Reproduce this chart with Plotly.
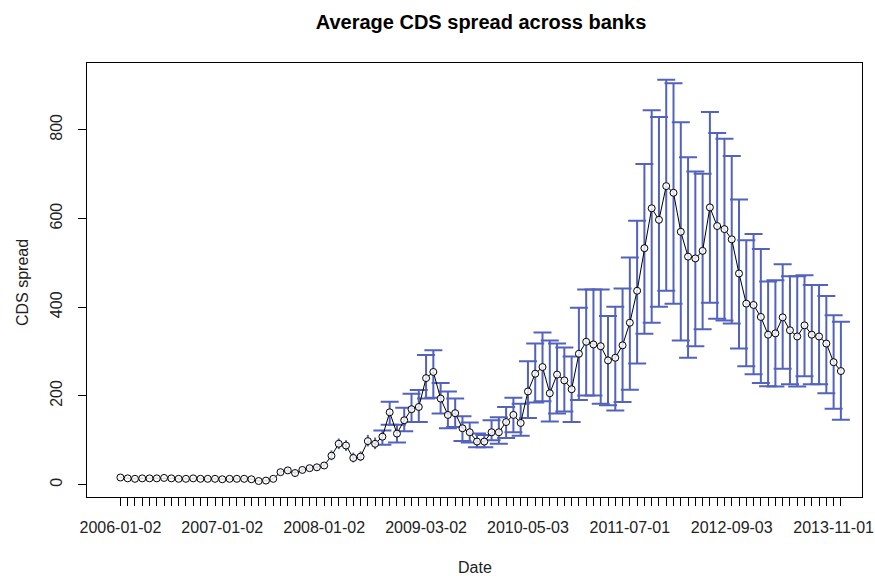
import plotly.graph_objects as go

# Monthly observations (index along the x axis)
obs = list(range(100))

# Average CDS spread across banks
mean_spread = [16, 14, 13, 14, 14, 14, 15, 14, 13, 13,
               14, 13, 13, 13, 12, 13, 13, 13, 12, 8,
               9, 13, 28, 32, 26, 33, 37, 39, 43, 65,
               92, 88, 60, 63, 98, 92, 108, 163, 115, 145,
               170, 175, 240, 254, 194, 157, 161, 127, 118, 97,
               97, 118, 118, 141, 157, 139, 210, 250, 265, 206,
               248, 235, 215, 295, 322, 316, 312, 280, 286, 314,
               365, 437, 533, 623, 597, 673, 658, 570, 514, 510,
               527, 625, 583, 576, 553, 476, 408, 405, 378, 338,
               341, 377, 348, 334, 359, 338, 334, 318, 276, 256]

# Upper end of the interval
upper_spread = [19, 17, 16, 17, 17, 17, 18, 17, 16, 16,
                17, 16, 16, 16, 15, 16, 16, 16, 15, 11,
                12, 16, 34, 38, 32, 39, 43, 45, 49, 77,
                104, 100, 72, 75, 112, 106, 122, 187, 135, 173,
                205, 213, 292, 303, 229, 210, 194, 154, 140, 115,
                112, 145, 152, 175, 196, 182, 278, 318, 343, 325,
                318, 309, 289, 399, 440, 440, 440, 380, 401, 442,
                512, 595, 723, 844, 829, 913, 905, 817, 738, 706,
                701, 840, 793, 780, 741, 643, 551, 565, 531, 458,
                461, 497, 470, 470, 472, 450, 450, 425, 382, 367]

# Lower end of the interval
lower_spread = [14, 12, 11, 12, 12, 12, 13, 12, 11, 11,
                12, 11, 11, 11, 10, 11, 11, 11, 10, 6,
                7, 11, 22, 26, 20, 27, 31, 33, 37, 55,
                80, 76, 50, 53, 86, 80, 90, 135, 95, 120,
                141, 141, 194, 196, 160, 127, 130, 98, 95, 84,
                84, 100, 92, 105, 118, 110, 150, 185, 188, 142,
                160, 165, 141, 191, 201, 201, 182, 179, 167, 186,
                214, 273, 340, 365, 401, 437, 408, 325, 286, 312,
                350, 410, 374, 370, 363, 307, 267, 249, 229, 222,
                221, 261, 226, 221, 244, 226, 226, 206, 171, 146]

# Date labels shown under the axis and the observations they sit under
date_labels = ["2006-01-02", "2007-01-02", "2008-01-02", "2009-03-02",
               "2010-05-03", "2011-07-01", "2012-09-03", "2013-11-01"]
label_obs = [0, 14, 28, 42, 56, 70, 84, 98]
y_ticks = [0, 200, 400, 600, 800]

# Short intervals are drawn without end caps
first_capped = 36

tick_text = []
for i in obs:
    tick_text.append(date_labels[label_obs.index(i)] if i in label_obs else "")

FONT = "Liberation Sans, Arial, sans-serif"
BAR_COLOR = "#5363bd"

fig = go.Figure()


def add_bars(idx, cap):
    xs = [obs[i] for i in idx]
    ys = [mean_spread[i] for i in idx]
    plus = [upper_spread[i] - mean_spread[i] for i in idx]
    minus = [mean_spread[i] - lower_spread[i] for i in idx]
    fig.add_trace(go.Scatter(
        x=xs, y=ys, mode="markers",
        marker=dict(size=1, color="rgba(0,0,0,0)"),
        error_y=dict(type="data", symmetric=False, array=plus,
                     arrayminus=minus, color=BAR_COLOR,
                     thickness=2, width=cap),
        hoverinfo="skip", showlegend=False,
    ))


add_bars(range(0, first_capped), 0)
add_bars(range(first_capped, len(obs)), 9)

# Mean line with open circles
fig.add_trace(go.Scatter(
    x=obs, y=mean_spread, mode="lines+markers",
    line=dict(color="black", width=1),
    marker=dict(symbol="circle", size=7, color="rgba(255,255,255,0.85)",
                line=dict(color="black", width=1)),
    showlegend=False,
))

W, H = 875, 576
ml, mr, mt, mb = 87, 13, 63, 79

fig.update_layout(
    width=W, height=H,
    margin=dict(l=ml, r=mr, t=mt, b=mb),
    paper_bgcolor="white", plot_bgcolor="white",
    font=dict(family=FONT, size=16, color="black"),
    title=dict(text="<b>Average CDS spread across banks</b>",
               x=481 / W, xanchor="center", xref="container",
               y=1 - 22 / H, yanchor="middle", yref="container",
               font=dict(family=FONT, size=20, color="black")),
    xaxis=dict(range=[-4.59, 101.9], tickmode="array", tickvals=obs,
               ticktext=tick_text, ticks="outside", ticklen=8,
               tickcolor="black", tickwidth=1, tickangle=0,
               showgrid=False, zeroline=False, showline=True,
               linecolor="black", linewidth=1, mirror=True,
               ticklabelstandoff=8, automargin=False,
               tickfont=dict(family=FONT, size=16, color="#222")),
    yaxis=dict(range=[-28, 950.6], tickmode="array", tickvals=y_ticks,
               ticktext=[str(v) for v in y_ticks], ticks="outside",
               ticklen=8, tickcolor="black", tickwidth=1, tickangle=-90,
               showgrid=False, zeroline=False, showline=True,
               linecolor="black", linewidth=1, mirror=True,
               ticklabelstandoff=10, automargin=False,
               tickfont=dict(family=FONT, size=16, color="#222")),
    annotations=[
        dict(text="CDS spread", xref="paper", yref="paper",
             x=(22 - ml) / (W - ml - mr), y=(H - mb - 283) / (H - mt - mb),
             xanchor="center", yanchor="middle", textangle=-90,
             showarrow=False, font=dict(family=FONT, size=16, color="#222")),
        dict(text="Date", xref="paper", yref="paper",
             x=(475 - ml) / (W - ml - mr), y=-(567 - (H - mb)) / (H - mt - mb),
             xanchor="center", yanchor="middle",
             showarrow=False, font=dict(family=FONT, size=16, color="#222")),
    ],
)

fig.write_html("out.html")
